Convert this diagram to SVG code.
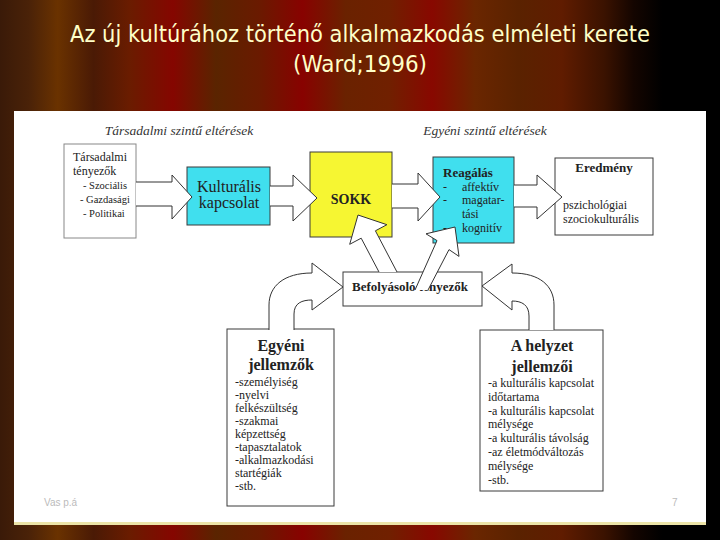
<svg xmlns="http://www.w3.org/2000/svg" width="720" height="540" viewBox="0 0 720 540">
<defs>
<linearGradient id="bg" x1="0" y1="0" x2="1" y2="0">
<stop offset="0" stop-color="#3a1a08"/>
<stop offset="0.04" stop-color="#4a2208"/>
<stop offset="0.08" stop-color="#6a3200"/>
<stop offset="0.13" stop-color="#4a1a05"/>
<stop offset="0.18" stop-color="#6a1c00"/>
<stop offset="0.24" stop-color="#850600"/>
<stop offset="0.30" stop-color="#5a2400"/>
<stop offset="0.36" stop-color="#6a1a00"/>
<stop offset="0.42" stop-color="#880200"/>
<stop offset="0.48" stop-color="#6a2200"/>
<stop offset="0.54" stop-color="#702000"/>
<stop offset="0.60" stop-color="#880800"/>
<stop offset="0.66" stop-color="#6a2600"/>
<stop offset="0.72" stop-color="#5a2200"/>
<stop offset="0.78" stop-color="#601c00"/>
<stop offset="0.84" stop-color="#3a1200"/>
<stop offset="0.88" stop-color="#140500"/>
<stop offset="0.92" stop-color="#000"/>
<stop offset="1" stop-color="#000"/>
</linearGradient>
<style>
.box{stroke:#3a3a3a;stroke-width:1;fill:#fff}
.arrow{fill:#fff;stroke:#333;stroke-width:1;stroke-linejoin:miter}
.t{font-family:"Liberation Serif","Times New Roman",serif;fill:#222;font-size:12px}
.s{font-size:10.5px}
.b{font-weight:bold}
.h{font-style:italic;font-size:13.5px;fill:#333;text-anchor:middle}
.title{font-family:"DejaVu Sans","Liberation Sans",sans-serif;fill:#ffffc8;font-size:23px;text-anchor:middle}
.foot{font-family:"Liberation Sans",sans-serif;fill:#bbb;font-size:10px}
</style>
</defs>
<rect x="0" y="0" width="720" height="540" fill="url(#bg)"/>
<text class="title" x="360" y="42" textLength="580" lengthAdjust="spacingAndGlyphs">Az új kultúrához történő alkalmazkodás elméleti kerete</text>
<text class="title" x="360" y="72" textLength="134" lengthAdjust="spacingAndGlyphs">(Ward;1996)</text>
<rect x="14" y="111" width="692" height="413" fill="#fff"/>
<rect x="14" y="522" width="692" height="3" fill="#ece4a8"/>
<text class="t h" x="179" y="135">Társadalmi szintű eltérések</text>
<text class="t h" x="485" y="135">Egyéni szintű eltérések</text>
<text class="foot" x="44" y="506">Vas p.á</text>
<text class="foot" x="672" y="506">7</text>

<g id="tarsadalmi">
<rect class="box" x="64" y="144" width="72" height="94" style="stroke:#888"/>
<text class="t" x="73" y="161">Társadalmi</text>
<text class="t" x="73" y="175">tényezők</text>
<text class="t s" x="83" y="189">- Szociális</text>
<text class="t s" x="80" y="203">- Gazdasági</text>
<text class="t s" x="83" y="217">- Politikai</text>
</g>
<g id="kulturalis">
<rect class="box" x="187" y="167" width="83" height="58" style="fill:#40dfee"/>
<text class="t" x="229" y="192" text-anchor="middle" style="font-size:16px">Kulturális</text>
<text class="t" x="229" y="208" text-anchor="middle" style="font-size:16px">kapcsolat</text>
</g>
<g id="sokk">
<rect class="box" x="310" y="152" width="82" height="85" style="fill:#f6f632"/>
<text class="t b" x="351" y="204" text-anchor="middle" style="font-size:14px">SOKK</text>
</g>
<g id="reagalas">
<rect class="box" x="433" y="157" width="81" height="86" style="fill:#40dfee"/>
<text class="t b" x="443" y="177" style="font-size:13px">Reagálás</text>
<text class="t" x="443" y="191">-</text>
<text class="t" x="462" y="191">affektív</text>
<text class="t" x="443" y="204">-</text>
<text class="t" x="462" y="204">magatar-</text>
<text class="t" x="462" y="218">tási</text>
<text class="t" x="443" y="232">-</text>
<text class="t" x="462" y="232">kognitív</text>
</g>
<g id="eredmeny">
<rect class="box" x="555" y="158" width="98" height="77"/>
<text class="t b" x="604" y="172" text-anchor="middle" style="font-size:13px">Eredmény</text>
<text class="t" x="563" y="209">pszichológiai</text>
<text class="t" x="563" y="223">szociokulturális</text>
</g>
<g id="befolyasolo">
<rect class="box" x="343" y="272" width="139" height="34"/>
<text class="t b" x="410" y="291" text-anchor="middle" style="font-size:13px">Befolyásoló tényezők</text>
</g>
<g id="egyeni">
<rect class="box" x="227" y="329" width="107" height="177"/>
<text class="t b" x="281" y="351" text-anchor="middle" style="font-size:16px">Egyéni</text>
<text class="t b" x="281" y="370" text-anchor="middle" style="font-size:16px">jellemzők</text>
<text class="t" x="235" y="386">-személyiség</text>
<text class="t" x="235" y="399">-nyelvi</text>
<text class="t" x="235" y="412">felkészültség</text>
<text class="t" x="235" y="425">-szakmai</text>
<text class="t" x="235" y="438">képzettség</text>
<text class="t" x="235" y="451">-tapasztalatok</text>
<text class="t" x="235" y="464">-alkalmazkodási</text>
<text class="t" x="235" y="477">startégiák</text>
<text class="t" x="235" y="490">-stb.</text>
</g>
<g id="helyzet">
<rect class="box" x="480" y="330" width="123" height="161"/>
<text class="t b" x="542" y="351" text-anchor="middle" style="font-size:16px">A helyzet</text>
<text class="t b" x="542" y="372" text-anchor="middle" style="font-size:16px">jellemzői</text>
<text class="t" x="488" y="387">-a kulturális kapcsolat</text>
<text class="t" x="488" y="400.8">időtartama</text>
<text class="t" x="488" y="414.6">-a kulturális kapcsolat</text>
<text class="t" x="488" y="428.4">mélysége</text>
<text class="t" x="488" y="442.2">-a kulturális távolság</text>
<text class="t" x="488" y="456">-az életmódváltozás</text>
<text class="t" x="488" y="469.8">mélysége</text>
<text class="t" x="488" y="483.6">-stb.</text>
</g>

<g id="connectors">
<path class="arrow" d="M136 182 L172 182 L172 175 L192 197 L172 219 L172 206 L136 206"/>
<path class="arrow" d="M270 186 L293 186 L293 175 L317 198 L293 221 L293 206 L270 206"/>
<path class="arrow" d="M392 184 L418 184 L418 173 L440 197 L418 221 L418 208 L392 208"/>
<path class="arrow" d="M514 185 L537 185 L537 175 L562 197 L537 219 L537 207 L514 207"/>
<path class="arrow" d="M379 272 L361.2 238.2 L349.7 244.3 L358 215 L386.9 224.7 L375.4 230.8 L397 272"/>
<path class="arrow" d="M415 290 L437 240.6 L426 233.8 L455 227 L459 256.4 L449 249.6 L428 290"/>
<path class="arrow" d="M269 330 L269 305 C269 286 284 273 312 273 L312 263 L343 287 L312 310 L312 300 C302 300 294 303 294 314 L294 330"/>
<path class="arrow" d="M554 330 L554 305 C554 286 540 273 512 273 L512 264 L482 286 L512 310 L512 301 C522 301 529 305 529 316 L529 330"/>
</g>
</svg>
